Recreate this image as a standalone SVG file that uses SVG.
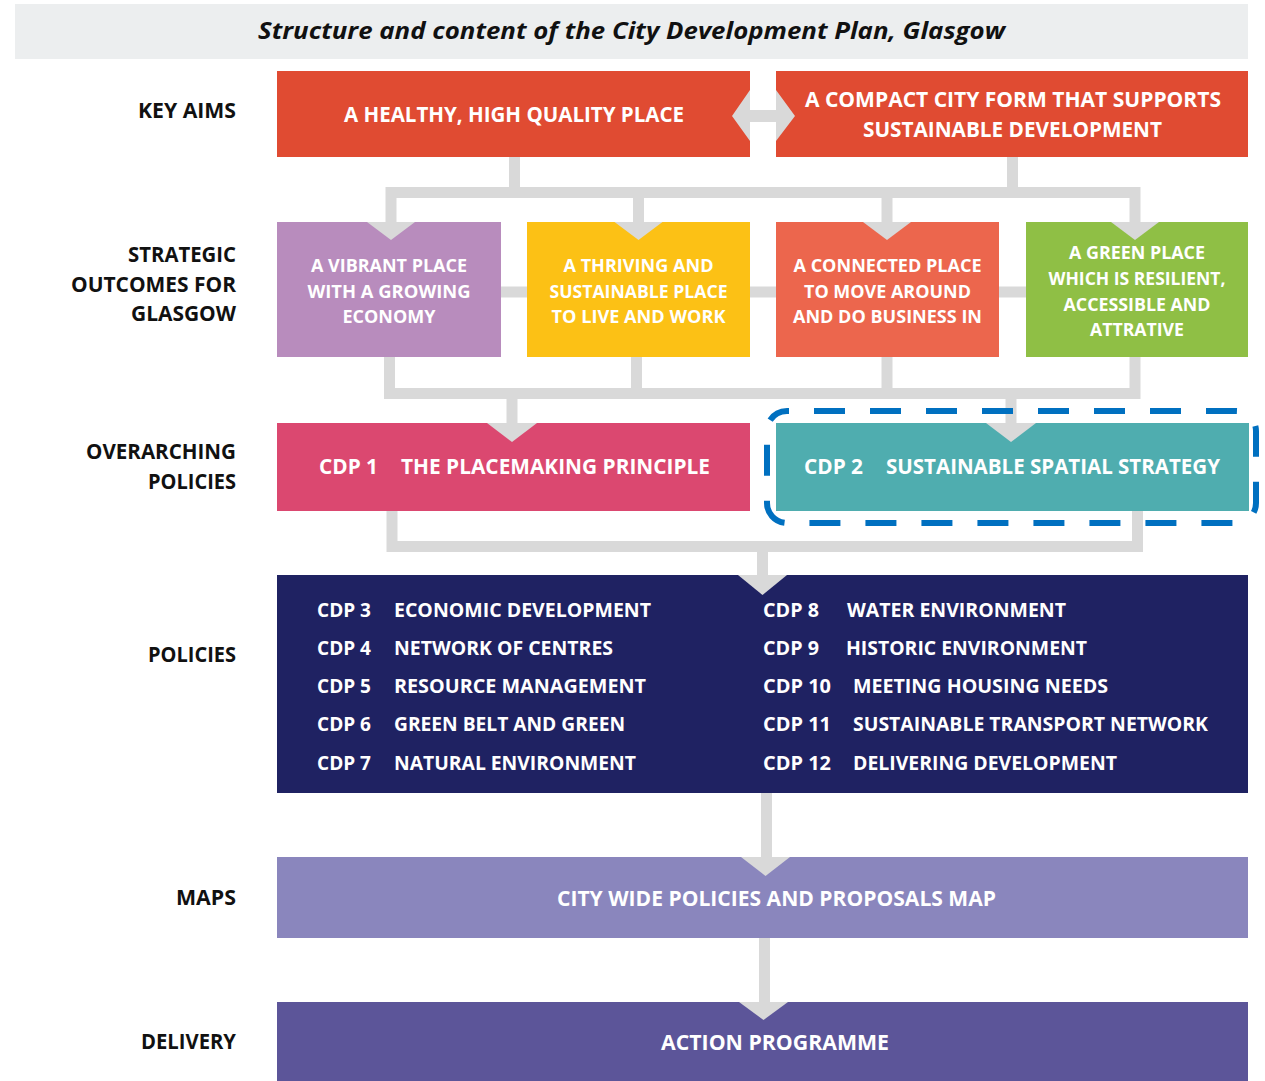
<svg xmlns="http://www.w3.org/2000/svg" width="1265" height="1081" viewBox="0 0 1265 1081">
<defs>
<style>
text{font-family:"Open Sans","Noto Sans","Liberation Sans",sans-serif;font-weight:700;}
.lbl{font-size:21px;fill:#111;text-anchor:end;}
.w{fill:#ffffff;}
.k{font-size:21px;}
.s{font-size:18px;}
.p{font-size:20px;}
.c{text-anchor:middle;}
.con{fill:none;stroke:#d9d9d9;stroke-width:11;stroke-linejoin:miter;stroke-linecap:butt;}
.ah{fill:#d9d9d9;}
</style>
</defs>
<rect width="1265" height="1081" fill="#ffffff"/>

<g id="title">
<rect x="15" y="4" width="1233" height="55" fill="#eceeef"/>
<text x="631.5" y="39" class="c" font-size="23" font-style="italic" fill="#111" textLength="747" lengthAdjust="spacingAndGlyphs">Structure and content of the City Development Plan, Glasgow</text>
</g>

<g id="row-labels">
<text class="lbl" x="236" y="118" textLength="98" lengthAdjust="spacingAndGlyphs">KEY AIMS</text>
<text class="lbl" x="236" y="262" textLength="108" lengthAdjust="spacingAndGlyphs">STRATEGIC</text>
<text class="lbl" x="236" y="292" textLength="165" lengthAdjust="spacingAndGlyphs">OUTCOMES FOR</text>
<text class="lbl" x="236" y="321" textLength="105" lengthAdjust="spacingAndGlyphs">GLASGOW</text>
<text class="lbl" x="236" y="459" textLength="150" lengthAdjust="spacingAndGlyphs">OVERARCHING</text>
<text class="lbl" x="236" y="489" textLength="88" lengthAdjust="spacingAndGlyphs">POLICIES</text>
<text class="lbl" x="236" y="662" textLength="88" lengthAdjust="spacingAndGlyphs">POLICIES</text>
<text class="lbl" x="236" y="905" textLength="60" lengthAdjust="spacingAndGlyphs">MAPS</text>
<text class="lbl" x="236" y="1049" textLength="95" lengthAdjust="spacingAndGlyphs">DELIVERY</text>
</g>

<g id="aim-healthy">
<rect x="277" y="71" width="473" height="86" fill="#e04b32"/>
<text class="w k" x="344" y="122" textLength="340" lengthAdjust="spacingAndGlyphs">A HEALTHY, HIGH QUALITY PLACE</text>
</g>
<g id="aim-compact">
<rect x="776" y="71" width="472" height="86" fill="#e04b32"/>
<text class="w k" x="805" y="107" textLength="416" lengthAdjust="spacingAndGlyphs">A COMPACT CITY FORM THAT SUPPORTS</text>
<text class="w k" x="863" y="137" textLength="299" lengthAdjust="spacingAndGlyphs">SUSTAINABLE DEVELOPMENT</text>
</g>

<g id="outcome-vibrant">
<rect x="277" y="222" width="224" height="135" fill="#b88cbd"/>
<text class="w s c" x="389" y="272" textLength="156" lengthAdjust="spacingAndGlyphs">A VIBRANT PLACE</text>
<text class="w s c" x="389" y="298" textLength="163" lengthAdjust="spacingAndGlyphs">WITH A GROWING</text>
<text class="w s c" x="389" y="323" textLength="93" lengthAdjust="spacingAndGlyphs">ECONOMY</text>
</g>
<g id="outcome-thriving">
<rect x="527" y="222" width="223" height="135" fill="#fcc115"/>
<text class="w s c" x="638.5" y="272" textLength="150" lengthAdjust="spacingAndGlyphs">A THRIVING AND</text>
<text class="w s c" x="638.5" y="298" textLength="178" lengthAdjust="spacingAndGlyphs">SUSTAINABLE PLACE</text>
<text class="w s c" x="638.5" y="323" textLength="174" lengthAdjust="spacingAndGlyphs">TO LIVE AND WORK</text>
</g>
<g id="outcome-connected">
<rect x="776" y="222" width="223" height="135" fill="#ec664d"/>
<text class="w s c" x="887.5" y="272" textLength="188" lengthAdjust="spacingAndGlyphs">A CONNECTED PLACE</text>
<text class="w s c" x="887.5" y="298" textLength="167" lengthAdjust="spacingAndGlyphs">TO MOVE AROUND</text>
<text class="w s c" x="887.5" y="323" textLength="189" lengthAdjust="spacingAndGlyphs">AND DO BUSINESS IN</text>
</g>
<g id="outcome-green">
<rect x="1026" y="222" width="222" height="135" fill="#8fbf45"/>
<text class="w s c" x="1137" y="259" textLength="136" lengthAdjust="spacingAndGlyphs">A GREEN PLACE</text>
<text class="w s c" x="1137" y="285" textLength="177" lengthAdjust="spacingAndGlyphs">WHICH IS RESILIENT,</text>
<text class="w s c" x="1137" y="311" textLength="147" lengthAdjust="spacingAndGlyphs">ACCESSIBLE AND</text>
<text class="w s c" x="1137" y="336" textLength="94" lengthAdjust="spacingAndGlyphs">ATTRATIVE</text>
</g>

<g id="cdp1">
<rect x="277" y="423" width="473" height="88" fill="#db4870"/>
<text class="w k" x="319" y="474" textLength="59" lengthAdjust="spacingAndGlyphs">CDP 1</text>
<text class="w k" x="401" y="474" textLength="309" lengthAdjust="spacingAndGlyphs">THE PLACEMAKING PRINCIPLE</text>
</g>
<g id="cdp2">
<rect x="776" y="423" width="473" height="88" fill="#4fadaf"/>
<text class="w k" x="804" y="474" textLength="59" lengthAdjust="spacingAndGlyphs">CDP 2</text>
<text class="w k" x="886" y="474" textLength="334" lengthAdjust="spacingAndGlyphs">SUSTAINABLE SPATIAL STRATEGY</text>
</g>

<g id="policies">
<rect x="277" y="575" width="971" height="218" fill="#1f2262"/>
<g class="w p">
<text x="317" y="617" textLength="54" lengthAdjust="spacingAndGlyphs">CDP 3</text>
<text x="394" y="617" textLength="257" lengthAdjust="spacingAndGlyphs">ECONOMIC DEVELOPMENT</text>
<text x="317" y="655" textLength="54" lengthAdjust="spacingAndGlyphs">CDP 4</text>
<text x="394" y="655" textLength="219" lengthAdjust="spacingAndGlyphs">NETWORK OF CENTRES</text>
<text x="317" y="693" textLength="54" lengthAdjust="spacingAndGlyphs">CDP 5</text>
<text x="394" y="693" textLength="252" lengthAdjust="spacingAndGlyphs">RESOURCE MANAGEMENT</text>
<text x="317" y="731" textLength="54" lengthAdjust="spacingAndGlyphs">CDP 6</text>
<text x="394" y="731" textLength="231" lengthAdjust="spacingAndGlyphs">GREEN BELT AND GREEN</text>
<text x="317" y="770" textLength="54" lengthAdjust="spacingAndGlyphs">CDP 7</text>
<text x="394" y="770" textLength="242" lengthAdjust="spacingAndGlyphs">NATURAL ENVIRONMENT</text>
<text x="763" y="617" textLength="56" lengthAdjust="spacingAndGlyphs">CDP 8</text>
<text x="847" y="617" textLength="219" lengthAdjust="spacingAndGlyphs">WATER ENVIRONMENT</text>
<text x="763" y="655" textLength="56" lengthAdjust="spacingAndGlyphs">CDP 9</text>
<text x="846" y="655" textLength="241" lengthAdjust="spacingAndGlyphs">HISTORIC ENVIRONMENT</text>
<text x="763" y="693" textLength="68" lengthAdjust="spacingAndGlyphs">CDP 10</text>
<text x="853" y="693" textLength="255" lengthAdjust="spacingAndGlyphs">MEETING HOUSING NEEDS</text>
<text x="763" y="731" textLength="68" lengthAdjust="spacingAndGlyphs">CDP 11</text>
<text x="853" y="731" textLength="355" lengthAdjust="spacingAndGlyphs">SUSTAINABLE TRANSPORT NETWORK</text>
<text x="763" y="770" textLength="68" lengthAdjust="spacingAndGlyphs">CDP 12</text>
<text x="853" y="770" textLength="264" lengthAdjust="spacingAndGlyphs">DELIVERING DEVELOPMENT</text>
</g>
</g>

<g id="maps">
<rect x="277" y="857" width="971" height="81" fill="#8a86bd"/>
<text class="w k" x="557" y="906" textLength="439" lengthAdjust="spacingAndGlyphs">CITY WIDE POLICIES AND PROPOSALS MAP</text>
</g>
<g id="delivery">
<rect x="277" y="1002" width="971" height="79" fill="#5c5599"/>
<text class="w k" x="661" y="1050" textLength="228" lengthAdjust="spacingAndGlyphs">ACTION PROGRAMME</text>
</g>

<g id="connectors">
<polygon class="ah" points="732,116 750,90 750,110 776,110 776,90 795,116 776,141 776,122 750,122 750,141"/>
<path class="con" d="M514.5 157 V192.5 M1012.5 157 V192.5 M391 222 V192.5 H1135 V222 M638.5 192.5 V222 M887 192.5 V222"/>
<polygon class="ah" points="367,222 415,222 391,240"/>
<polygon class="ah" points="614.5,222 662.5,222 638.5,240"/>
<polygon class="ah" points="863,222 911,222 887,240"/>
<polygon class="ah" points="1111,222 1159,222 1135,240"/>
<path class="con" d="M501 292 H527 M750 292 H776 M999 292 H1026"/>
<path class="con" d="M389.5 357 V393.5 H1135 V357 M636.5 357 V393.5 M887 357 V393.5 M512 393.5 V423 M1011 393.5 V423"/>
<polygon class="ah" points="487,423 537,423 512,442"/>
<polygon class="ah" points="986,423 1036,423 1011,442"/>
<path class="con" d="M392 511 V546.5 H1137.5 V511 M762.5 546.5 V575"/>
<polygon class="ah" points="738,575 787,575 762.5,595"/>
<path class="con" d="M766.5 793 V857"/>
<polygon class="ah" points="741,857 790,857 765.5,876"/>
<path class="con" d="M764.5 938 V1002"/>
<polygon class="ah" points="739,1002 788,1002 763.5,1020"/>
</g>

<g id="highlight">
<rect x="767" y="411" width="489" height="112" rx="20" ry="20" fill="none" stroke="#0070c0" stroke-width="6" stroke-dasharray="31 25" stroke-dashoffset="29"/>
</g>
</svg>
